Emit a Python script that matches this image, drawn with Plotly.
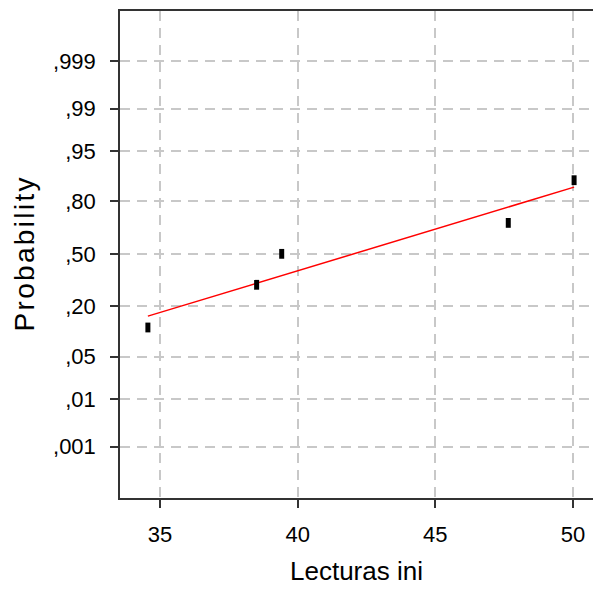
from statistics import NormalDist
import numpy as np
import plotly.graph_objects as go

# Observed readings and their plotting-position probabilities
lecturas = [34.56, 38.51, 39.42, 47.65, 50.04]
probabilidad = [0.119, 0.310, 0.500, 0.690, 0.881]

# Probability axis tick values and labels
prob_ticks = [0.001, 0.01, 0.05, 0.20, 0.50, 0.80, 0.95, 0.99, 0.999]
prob_labels = [",001", ",01", ",05", ",20", ",50", ",80", ",95", ",99", ",999"]

nd = NormalDist()
z_pts = [nd.inv_cdf(p) for p in probabilidad]
z_ticks = [nd.inv_cdf(p) for p in prob_ticks]

# Least-squares fit of the normal score on the reading
slope, intercept = np.polyfit(lecturas, z_pts, 1)
x_fit = [min(lecturas), max(lecturas)]
z_fit = [slope * x + intercept for x in x_fit]

FONT = "Liberation Sans Narrow, Liberation Sans, Arial"
tick_font = dict(family=FONT, size=22, color="black")

fig = go.Figure()
fig.add_trace(go.Scatter(
    x=x_fit, y=z_fit, mode="lines",
    line=dict(color="#ff0000", width=1.5),
    hoverinfo="skip", showlegend=False,
))
fig.add_trace(go.Scatter(
    x=lecturas, y=z_pts, mode="markers",
    marker=dict(symbol="line-ns", size=7, color="black",
                line=dict(color="black", width=5)),
    customdata=probabilidad,
    hovertemplate="%{x}<br>p=%{customdata}<extra></extra>",
    showlegend=False,
))

fig.update_layout(
    width=593, height=591,
    margin=dict(l=120, r=0, t=11, b=93),
    paper_bgcolor="white", plot_bgcolor="white",
    xaxis=dict(
        range=[33.547, 50.727],
        tickmode="array", tickvals=[35, 40, 45, 50], ticktext=["35", "40", "45", "50"],
        showgrid=True, gridcolor="#c8c8c8", gridwidth=1.5, griddash="10px,7px",
        zeroline=False,
        showline=True, linecolor="#333333", linewidth=1.5, mirror=True,
        ticks="outside", ticklen=8, tickcolor="#333333", tickwidth=1.5,
        tickfont=tick_font, ticklabelstandoff=8,
        title=dict(text="Lecturas ini",
                   font=dict(family=FONT, size=26, color="black"),
                   standoff=16),
    ),
    yaxis=dict(
        range=[-3.912, 3.891],
        tickmode="array", tickvals=z_ticks, ticktext=prob_labels,
        showgrid=True, gridcolor="#c8c8c8", gridwidth=1.5, griddash="10px,7px",
        zeroline=False,
        showline=True, linecolor="#333333", linewidth=1.5, mirror=False,
        ticks="outside", ticklen=8, tickcolor="#333333", tickwidth=1.5,
        tickfont=tick_font, ticklabelstandoff=10,
        title=dict(text="P\u200ar\u200ao\u200ab\u200aa\u200ab\u200ai\u200al\u200ai\u200at\u200ay",
                   font=dict(family="Liberation Sans, Arial", size=28, color="black"),
                   standoff=10),
    ),
)

fig.write_html("out.html")
